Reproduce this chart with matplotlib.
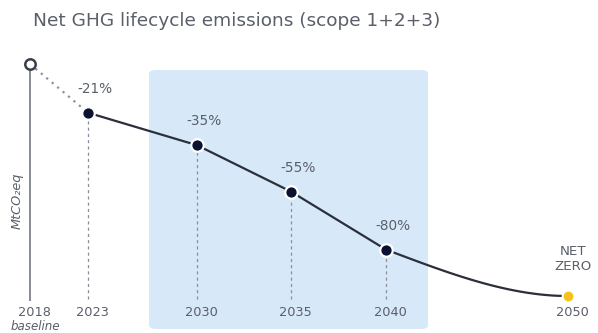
import numpy as np
import matplotlib
matplotlib.use("Agg")
import matplotlib.pyplot as plt
from matplotlib.patches import FancyBboxPatch
from matplotlib.transforms import ScaledTranslation

# --- data -------------------------------------------------------------
years = [2018, 2023, 2030, 2035, 2040, 2050]
emissions_index = [100, 79, 65, 45, 20, 0]   # % of 2018 baseline
tick_labels = ["2018", "2023", "2030", "2035", "2040", "2050"]
title = "Net GHG lifecycle emissions (scope 1+2+3)"

# --- styling ----------------------------------------------------------
TEXT = "#5a5f69"
LINE = "#2b2f3c"
DOT = "#0b1232"
GOLD = "#f3c21d"
SHADE = "#d7e9f9"
GRID = "#8a8f99"
FONT = "DejaVu Sans"

W, H, DPI = 598, 333, 100
fig = plt.figure(figsize=(W / DPI, H / DPI), dpi=DPI)
ax = fig.add_axes([0, 0, 1, 1])
ax.set_axis_off()

# broken time axis: the early years are compressed
anchor_years = np.array([2018, 2023, 2030, 2035, 2040, 2050], float)
anchor_pos = np.array([30, 88, 197, 291, 386, 568], float) / W


def _pl(x, xp, fp):
    x = np.asarray(x, float)
    y = np.interp(x, xp, fp)
    lo = x < xp[0]
    hi = x > xp[-1]
    y = np.where(lo, fp[0] + (x - xp[0]) * (fp[1] - fp[0]) / (xp[1] - xp[0]), y)
    y = np.where(hi, fp[-1] + (x - xp[-1]) * (fp[-1] - fp[-2]) / (xp[-1] - xp[-2]), y)
    return y


def fwd(x):
    return _pl(x, anchor_years, anchor_pos)


def inv(p):
    return _pl(p, anchor_pos, anchor_years)


ax.set_xscale("function", functions=(fwd, inv))
ax.set_xlim(inv(0.0), inv(1.0))
# value 0 sits 296 px from the top, 100 sits 64 px from the top
PX_PER_UNIT = 2.32
ax.set_ylim(-(H - 296) / PX_PER_UNIT, 296 / PX_PER_UNIT)


def shifted(dx, dy):
    return ax.transData + ScaledTranslation(dx / DPI, dy / DPI, fig.dpi_scale_trans)


# shaded highlight band (2030-2040 horizon)
band = FancyBboxPatch((149 / W, 4 / H), (428 - 149) / W, (263 - 4) / H,
                      boxstyle="round,pad=0,rounding_size=0.012",
                      transform=ax.transAxes, facecolor=SHADE,
                      edgecolor="none", zorder=0)
ax.add_patch(band)

yrs = np.array(years, float)
vals = np.array(emissions_index, float)

# vertical axis line at baseline year
ax.plot([yrs[0], yrs[0]], [-2, vals[0] - 2.2], color="#7d828c", lw=1.3,
        solid_capstyle="butt", zorder=2)

# dashed drop lines from each milestone
for x, v in zip(yrs[1:-1], vals[1:-1]):
    ax.plot([x, x], [-1.5, v], color=GRID, lw=0.9, ls=(0, (2.5, 2.5)), zorder=2)

# dotted segment baseline -> first milestone
ax.plot(yrs[:2], vals[:2], color="#8d929b", lw=1.6, ls=(0, (1, 2.2)),
        zorder=3)

# trajectory: straight between milestones, easing into net zero
ax.plot(yrs[1:-1], vals[1:-1], color=LINE, lw=1.6, zorder=3,
        solid_joinstyle="round")
px = fwd(yrs[-2:])
py = vals[-2:]
h = px[1] - px[0]
m0 = (vals[-1] - vals[-3]) / (px[1] - fwd(yrs[-3]))
t = np.linspace(0, 1, 100)
h00 = 2 * t**3 - 3 * t**2 + 1
h10 = t**3 - 2 * t**2 + t
h01 = -2 * t**3 + 3 * t**2
cx = px[0] + t * h
cy = h00 * py[0] + h10 * h * m0 + h01 * py[1]
ax.plot(inv(cx), cy, color=LINE, lw=1.6, zorder=3, solid_capstyle="round")

# markers
ax.plot(yrs[0], vals[0], "o", ms=7.5, mfc="white", mec="#3a3e48", mew=1.8,
        zorder=5)
ax.plot(yrs[1:-1], vals[1:-1], "o", ms=9, mfc=DOT, mec="white", mew=1.6,
        zorder=5, ls="none")
ax.plot(yrs[-1], vals[-1], "o", ms=8.5, mfc=GOLD, mec="white", mew=1.4,
        zorder=5)

# percentage labels
for x, v in zip(yrs[1:-1], vals[1:-1]):
    ax.text(x, v, f"{int(round(v - 100))}%", ha="center", va="center",
            fontsize=9.8, color=TEXT, family=FONT, transform=shifted(7, 24))

ax.text(yrs[-1], vals[-1], "NET\nZERO", ha="center", va="center",
        fontsize=9.6, color=TEXT, family=FONT, linespacing=1.25,
        transform=shifted(5, 37))

# year tick labels
for x, lab in zip(yrs, tick_labels):
    ax.text(x, 0, lab, ha="center", va="center", fontsize=9.3, color=TEXT,
            family=FONT, transform=shifted(4, -17))
ax.text(yrs[0], 0, "baseline", ha="center", va="center", fontsize=8.6,
        color=TEXT, family=FONT, style="italic", transform=shifted(5, -31))

# unit label
ax.text(17 / W, 1 - 201 / H, "MtCO\u2082eq", rotation=90, ha="center",
        va="center", fontsize=9.3, color=TEXT, family=FONT, style="italic",
        transform=ax.transAxes)

# title
fig.text(33 / W, 1 - 21 / H, title, ha="left", va="center", fontsize=13.3,
         color=TEXT, family=FONT)

fig.savefig("out.png", dpi=DPI)
